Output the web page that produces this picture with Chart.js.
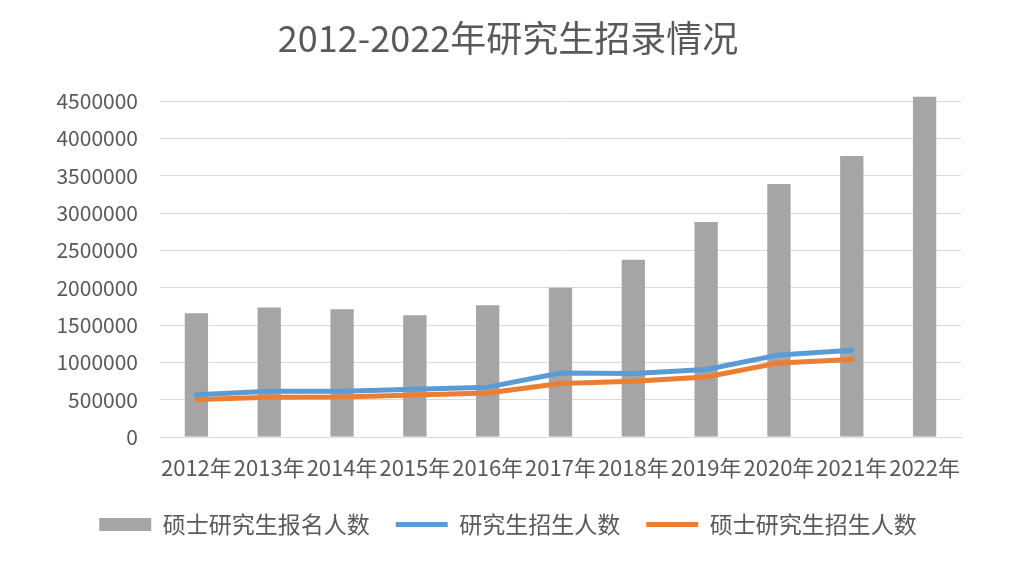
<!DOCTYPE html>
<html>
<head>
<meta charset="utf-8">
<script src="https://cdn.jsdelivr.net/npm/chart.js@4/dist/chart.umd.min.js"></script>
<style>
  html, body { margin: 0; padding: 0; background: #fff; }
  #wrap { width: 1014px; height: 572px; }
</style>
</head>
<body>
<div id="wrap"><canvas id="chart"></canvas></div>
<script>
const years = ['2012年', '2013年', '2014年', '2015年', '2016年', '2017年', '2018年', '2019年', '2020年', '2021年', '2022年'];
// 硕士研究生报名人数
const applicants = [1659000, 1736000, 1713000, 1632000, 1767000, 2000000, 2376000, 2880000, 3390000, 3766000, 4560000];
// 研究生招生人数
const gradEnrolled = [565000, 612000, 614000, 640000, 668000, 858000, 852000, 905000, 1100000, 1163000, null];
// 硕士研究生招生人数
const masterEnrolled = [502000, 532000, 536000, 564000, 590000, 716000, 746000, 805000, 993000, 1038000, null];
const yTicks = [0, 500000, 1000000, 1500000, 2000000, 2500000, 3000000, 3500000, 4000000, 4500000];

const font = "'Noto Sans CJK SC', 'Noto Sans', sans-serif";
const textColor = '#595959';
const gridColor = '#D9D9D9';

new Chart(document.getElementById('chart'), {
    type: 'bar',
    data: {
        labels: years,
        datasets: [{
            label: '硕士研究生报名人数',
            data: applicants,
            backgroundColor: '#A5A5A5',
            barPercentage: 0.32,
            categoryPercentage: 1,
            pointStyle: 'rect',
            order: 1,
            clip: false
        }, {
            type: 'line',
            label: '研究生招生人数',
            data: gradEnrolled,
            borderColor: '#5B9BD5',
            backgroundColor: '#5B9BD5',
            borderWidth: 5,
            borderCapStyle: 'round',
            borderJoinStyle: 'round',
            pointRadius: 0,
            pointStyle: 'line',
            tension: 0,
            order: 0
        }, {
            type: 'line',
            label: '硕士研究生招生人数',
            data: masterEnrolled,
            borderColor: '#ED7D31',
            backgroundColor: '#ED7D31',
            borderWidth: 5,
            borderCapStyle: 'round',
            borderJoinStyle: 'round',
            pointRadius: 0,
            pointStyle: 'line',
            tension: 0,
            order: 0
        }]
    },
    options: {
        responsive: true,
        maintainAspectRatio: false,
        animation: false,
        layout: {
            padding: { left: 55, right: 53, top: 0, bottom: 26 }
        },
        scales: {
            x: {
                afterFit: scale => { scale.height = 50; },
                grid: { display: false, drawTicks: false },
                border: { display: true, color: gridColor },
                ticks: {
                    color: textColor,
                    font: { family: font, size: 22 },
                    maxRotation: 0,
                    autoSkip: false,
                    padding: 17
                }
            },
            y: {
                min: 0,
                max: 4500000,
                afterFit: scale => { scale.width = 105; },
                afterBuildTicks: scale => { scale.ticks = yTicks.map(v => ({ value: v })); },
                grid: { color: gridColor, drawTicks: false },
                border: { display: false },
                ticks: {
                    color: textColor,
                    font: { family: font, size: 21 },
                    padding: 22,
                    callback: v => String(v)
                }
            }
        },
        plugins: {
            title: {
                display: true,
                text: '2012-2022年研究生招录情况',
                color: textColor,
                font: { family: font, size: 36, weight: 'normal' },
                padding: { top: 17, bottom: 41 }
            },
            legend: {
                position: 'bottom',
                labels: {
                    usePointStyle: true,
                    pointStyleWidth: 52,
                    boxHeight: 13,
                    padding: 26,
                    color: textColor,
                    font: { family: font, size: 23 },
                    sort: (a, b) => a.datasetIndex - b.datasetIndex
                }
            },
            tooltip: { enabled: false }
        }
    }
});
</script>
</body>
</html>
